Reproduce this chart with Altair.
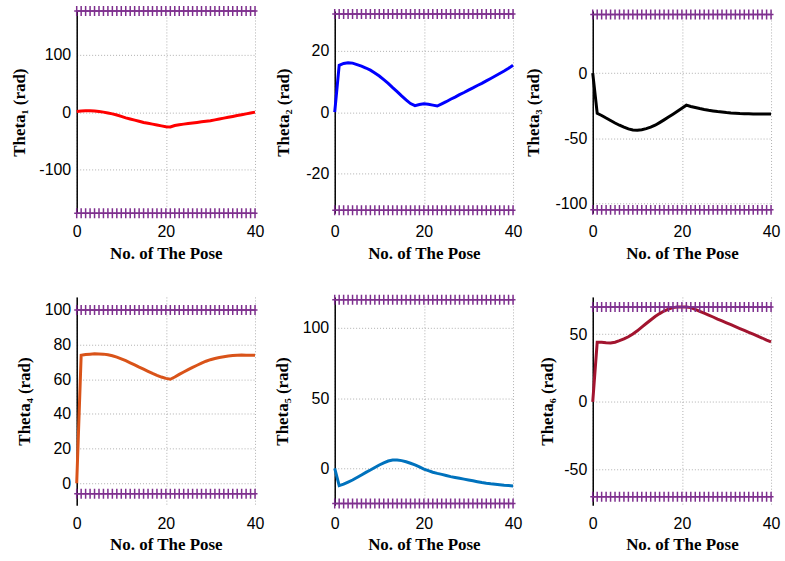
import altair as alt
import pandas as pd

pose = list(range(41))

theta1 = [1, 2, 2.5, 2.5, 2, 1, 0, -1.5, -3, -5, -7.5, -10, -12, -14, -16, -18, -19.5, -21, -22.5, -24,
          -25.5, -26, -23.5, -22, -21, -20, -19, -18, -17, -16, -15, -13.5, -12, -10.5, -9, -7.5, -6, -4.5, -3, -1.5, 0]
theta2 = [0, 15.3, 15.9, 16.1, 16, 15.5, 15, 14.4, 13.7, 12.8, 11.8, 10.6, 9.4, 8, 6.7, 5.3, 4, 2.8, 2.1, 2.5,
          2.7, 2.6, 2.3, 2.0, 2.7, 3.4, 4.2, 4.9, 5.7, 6.4, 7.2, 7.9, 8.7, 9.4, 10.2, 11, 11.8, 12.6, 13.4, 14.3, 15.3]
theta3 = [0, -30.8, -32.5, -34.5, -36.4, -38.3, -40, -41.5, -42.8, -43.6, -43.8, -43.4, -42.6, -41.5, -40, -38,
          -35.9, -33.7, -31.5, -29.2, -26.9, -24.6, -25.6, -26.4, -27.2, -27.9, -28.5, -29, -29.5, -29.9, -30.3,
          -30.6, -30.8, -31, -31.1, -31.2, -31.3, -31.3, -31.3, -31.3, -31.3]
theta4 = [0, 73.8, 74.3, 74.5, 74.7, 74.6, 74.5, 74.1, 73.6, 72.8, 71.8, 70.7, 69.5, 68.3, 67, 65.8, 64.6, 63.4,
          62.3, 61.3, 60.5, 60, 61.3, 62.8, 64.2, 65.6, 66.9, 68.1, 69.3, 70.4, 71.3, 72, 72.6, 73, 73.4, 73.7,
          73.9, 74, 73.9, 73.9, 73.8]
theta5 = [0, -12.3, -11.3, -9.8, -8.3, -6.5, -4.7, -2.9, -1.2, 0.6, 2.4, 3.9, 5.2, 5.9, 5.9, 5.5, 4.7, 3.6, 2.4,
          1, -0.5, -1.7, -2.8, -3.6, -4.3, -5.1, -5.9, -6.5, -7.1, -7.7, -8.3, -8.9, -9.5, -10.1, -10.6, -11,
          -11.3, -11.7, -12.1, -12.3, -12.5]
theta6 = [0, 43.9, 43.9, 43.6, 43.4, 44, 45.1, 46.4, 48, 50.1, 52.4, 55.1, 57.8, 60.4, 62.9, 65.1, 67, 68.4,
          69.5, 69.9, 70, 69.9, 69.5, 68.2, 66.8, 65.4, 64, 62.6, 61.1, 59.7, 58.3, 56.9, 55.5, 54.1, 52.7, 51.3,
          49.9, 48.5, 47.1, 45.6, 44.2]

series = [theta1, theta2, theta3, theta4, theta5, theta6]
colors = ["#ff0000", "#0000ff", "#000000", "#d95319", "#0072bd", "#a2142f"]
subs = ["\u2081", "\u2082", "\u2083", "\u2084", "\u2085", "\u2086"]
domains = [[-177, 177], [-33, 33], [-107.6, 47.7], [-12.6, 107.5], [-26.2, 122], [-76.2, 77.4]]
tick_vals = [[-100, 0, 100], [-20, 0, 20], [-100, -50, 0], [0, 20, 40, 60, 80, 100], [0, 50, 100], [-50, 0, 50]]
limits = [[-177, 177], [-32, 32], [-105, 45], [-6, 100], [-25, 120], [-70, 70]]
x_ticks = [0, 20, 40]

purple = "#7e2f8e"
plus = "M-0.5,0L0.5,0M0,-1L0,1"
title_pads = [10, 13, 12, 11, 11, 7]
heights = [203, 203, 203, 209, 209, 209]


def panel(i):
    df = pd.DataFrame({"pose": pose, "theta": series[i]})
    lim_df = pd.DataFrame({
        "pose": pose + pose,
        "theta": [limits[i][0]] * len(pose) + [limits[i][1]] * len(pose),
        "which": ["lo"] * len(pose) + ["hi"] * len(pose),
    })
    xenc = alt.X("pose:Q", scale=alt.Scale(domain=[0, 40], nice=False),
                 axis=alt.Axis(values=x_ticks, title="No. of The Pose", domain=False, ticks=False,
                               tickSize=0, labelPadding=10, titlePadding=6, labelFlush=False,
                               labelExpr="toString(datum.value)"))
    yenc = alt.Y("theta:Q", scale=alt.Scale(domain=domains[i], nice=False, zero=False),
                 axis=alt.Axis(values=tick_vals[i], title=f"Theta{subs[i]} (rad)", domain=True,
                               domainColor="#000000", domainWidth=1.5, ticks=False, tickSize=0,
                               labelPadding=6, titlePadding=title_pads[i], labelFlush=False,
                               labelExpr="toString(datum.value)"))
    limline = alt.Chart(lim_df).mark_line(color=purple, strokeWidth=1.5, clip=False).encode(
        x=alt.X("pose:Q"), y=alt.Y("theta:Q"), detail="which:N")
    limpts = alt.Chart(lim_df).mark_point(shape=plus, size=100, filled=False, color=purple,
                                          strokeWidth=1.5, opacity=1, clip=False).encode(
        x=alt.X("pose:Q"), y=alt.Y("theta:Q"))
    curve = alt.Chart(df).mark_line(color=colors[i], strokeWidth=3).encode(x=xenc, y=yenc)
    return alt.layer(curve, limline, limpts).properties(width=179, height=heights[i])


chart = alt.concat(*[panel(i) for i in range(6)], columns=3,
                   spacing={"row": 84, "column": 80}, bounds="flush").properties(
    padding={"left": 10, "top": 2, "right": 5, "bottom": 5}
).configure_view(stroke=None).configure_axis(
    labelFont="Liberation Sans", labelFontSize=16, labelColor="#000000",
    titleFont="Liberation Serif", titleFontSize=17, titleFontWeight="bold", titleColor="#000000",
    grid=True, gridColor="#b0b0b0", gridDash=[1, 2], gridWidth=1,
)

chart.save("out.html", embed_options={"renderer": "svg", "actions": False})
